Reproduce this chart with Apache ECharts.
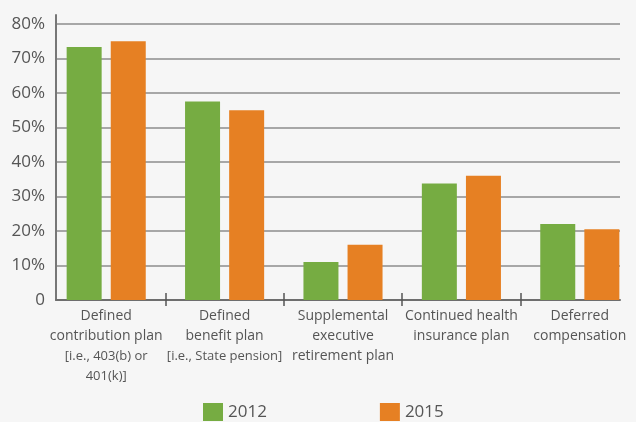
<!DOCTYPE html>
<html>
<head>
<meta charset="utf-8">
<script src="https://cdn.jsdelivr.net/npm/echarts@6/dist/echarts.min.js"></script>
<style>
  html, body { margin: 0; padding: 0; background: #f6f6f6; }
  #chart { width: 636px; height: 422px; }
</style>
</head>
<body>
<div id="chart"></div>
<script>
// Benefit types offered, share of respondents by survey year
const categories = [
  'Defined\ncontribution plan',
  'Defined\nbenefit plan',
  'Supplemental\nexecutive\nretirement plan',
  'Continued health\ninsurance plan',
  'Deferred\ncompensation'
];
const notes = ['[i.e., 403(b) or\n401(k)]', '[i.e., State pension]', '', '', ''];
const seriesNames = ['2012', '2015'];
const values2012 = [73.3, 57.5, 11, 33.8, 22];
const values2015 = [75, 55, 16, 36, 20.5];
const yTicks = [0, 10, 20, 30, 40, 50, 60, 70, 80];

const GREEN = '#76ac42';
const ORANGE = '#e68023';
const TEXT = '#555555';
const FONT = '"Open Sans", "DejaVu Sans", sans-serif';

const yMax = 82.6;

const chart = echarts.init(document.getElementById('chart'), null, { renderer: 'canvas' });

chart.setOption({
  backgroundColor: '#f6f6f6',
  animation: false,
  textStyle: { fontFamily: FONT },
  grid: [
    // frame: value axis, gridlines and baseline
    { left: 56, width: 564, top: 15, height: 285, containLabel: false, outerBoundsMode: 'none' },
    // bars and category labels
    { left: 47, width: 592, top: 15, height: 285, containLabel: false, outerBoundsMode: 'none' }
  ],
  legend: {
    data: seriesNames,
    left: 203,
    top: 403,
    padding: 0,
    icon: 'rect',
    itemWidth: 20,
    itemHeight: 18,
    itemGap: 113,
    textStyle: { fontSize: 17, color: TEXT, fontFamily: FONT }
  },
  xAxis: [
    {
      gridIndex: 0,
      type: 'value',
      min: 0,
      max: 1,
      axisLine: { show: true, onZero: false, lineStyle: { color: '#6e6e6e', width: 2 } },
      axisTick: { show: false },
      axisLabel: { show: false },
      splitLine: { show: false }
    },
    {
      gridIndex: 1,
      type: 'category',
      data: categories,
      boundaryGap: true,
      offset: -7,
      axisLine: { show: false },
      axisTick: {
        show: true,
        length: 13,
        interval: (i) => i >= 1,
        lineStyle: { color: '#555', width: 1.5 }
      },
      axisLabel: {
        interval: 0,
        margin: 13,
        color: TEXT,
        formatter: (value, idx) => {
          const main = categories[idx].split('\n').map(s => '{a|' + s + '}');
          const sub = notes[idx] ? notes[idx].split('\n').map(s => '{b|' + s + '}') : [];
          return main.concat(sub).join('\n');
        },
        rich: {
          a: { fontSize: 14, lineHeight: 20, color: TEXT, fontFamily: FONT, align: 'center' },
          b: { fontSize: 13, lineHeight: 20, color: TEXT, fontFamily: FONT, align: 'center' }
        }
      },
      splitLine: { show: false }
    }
  ],
  yAxis: [
    {
      gridIndex: 0,
      type: 'value',
      min: 0,
      max: yMax,
      interval: 10,
      axisLine: { show: true, lineStyle: { color: '#777', width: 2 } },
      axisTick: { show: false },
      axisLabel: {
        margin: 11,
        fontSize: 17,
        color: TEXT,
        fontFamily: FONT,
        showMaxLabel: false,
        formatter: (v) => (yTicks.indexOf(v) < 0 ? '' : (v === 0 ? '0' : v + '%'))
      },
      splitLine: {
        show: true,
        showMaxLine: false,
        lineStyle: { color: '#8c8c8c', width: 1.5 }
      }
    },
    {
      gridIndex: 1,
      type: 'value',
      min: 0,
      max: yMax,
      show: false,
      splitLine: { show: false }
    }
  ],
  series: [
    {
      name: seriesNames[0],
      type: 'bar',
      xAxisIndex: 1,
      yAxisIndex: 1,
      data: values2012,
      barWidth: 35,
      barGap: '26%',
      itemStyle: { color: GREEN }
    },
    {
      name: seriesNames[1],
      type: 'bar',
      xAxisIndex: 1,
      yAxisIndex: 1,
      data: values2015,
      barWidth: 35,
      barGap: '26%',
      itemStyle: { color: ORANGE }
    }
  ]
});
</script>
</body>
</html>
